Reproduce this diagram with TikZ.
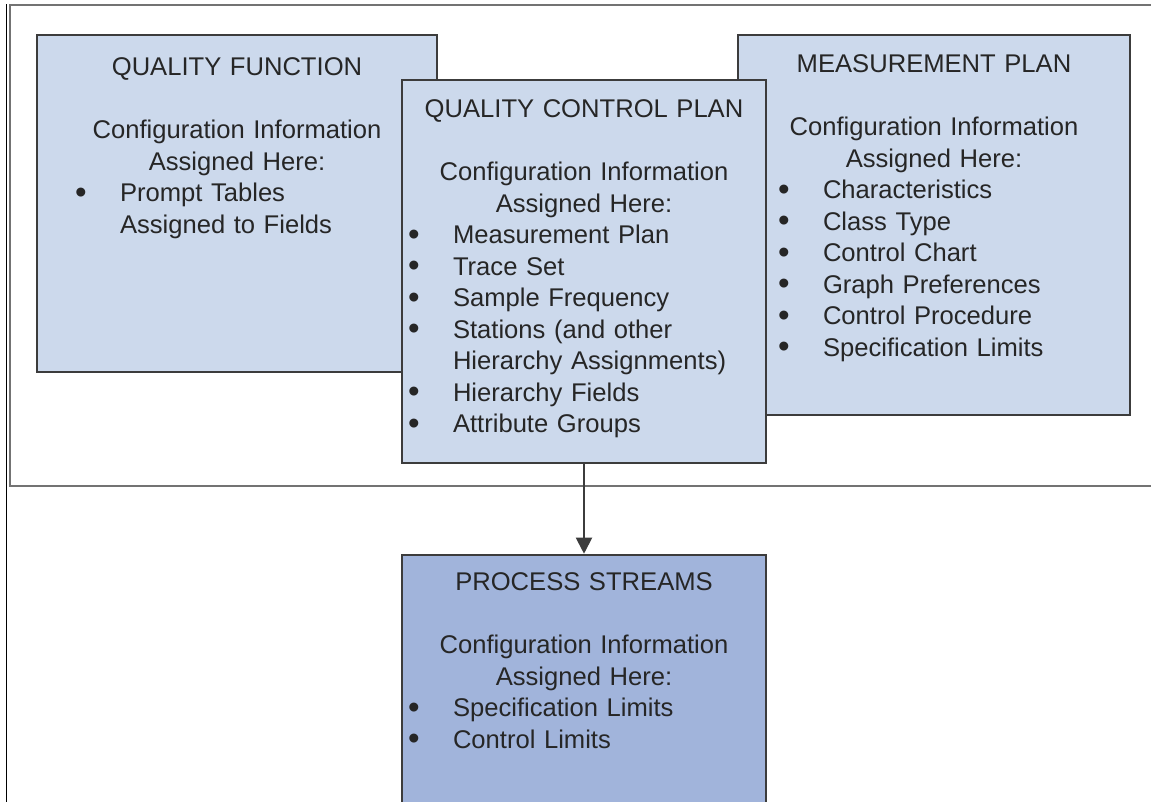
\documentclass[tikz,border=0pt]{standalone}
\usepackage{fontspec}
\setmainfont{Liberation Sans}
\usepackage{xcolor}
\definecolor{boxblue}{RGB}{204,217,236}
\definecolor{streamblue}{RGB}{161,180,219}
\definecolor{edgegray}{RGB}{60,60,60}
\definecolor{inkgray}{RGB}{38,38,38}
\usetikzlibrary{positioning,arrows.meta}
\newcommand{\bdot}{\raisebox{-1.5pt}{\fontsize{33}{31.5}\selectfont\textbullet}}
\newcommand{\bpt}[2][6pt]{\makebox[\hsize][l]{\hspace*{#1}\makebox[45pt][l]{\bdot}#2}}
\newcommand{\bcont}[2][6pt]{\makebox[\hsize][l]{\hspace*{#1}\hspace*{45pt}#2}}
\tikzset{
    plan/.style={
    rectangle,draw=edgegray,line width=2.6pt,fill=boxblue
    },
    stream/.style={
    plan,fill=streamblue
    },
  info/.style={inner sep=0pt, align=center, text=inkgray, font=\fontsize{25.6}{31.5}\selectfont},
  frame/.style={draw=black!55, line width=2pt},
  line/.style={draw=edgegray, line width=2pt, -{Triangle[width=16pt,length=16pt]}}
}
\begin{document}
\begin{tikzpicture}[x=1pt,y=-1pt]
    \clip (0,0) rectangle (1151,801);

    \draw[frame] (1160,4.5) -- (9.5,4.5) -- (9.5,485.5) -- (1160,485.5);
    \draw[black, line width=1.2pt] (6.5,4) -- (6.5,810);

    \node[plan, minimum width=400pt, minimum height=337pt] (qf) at (237,203.5) {};
    \node[info, text width=400pt, below=20pt of qf.north] (qf-text) {\strut QUALITY FUNCTION\\[31.5pt]
      Configuration Information\\ Assigned Here:\\
      \bpt[38pt]{Prompt Tables}\\ \bcont[38pt]{Assigned to Fields}};

    \node[plan, minimum width=392pt, minimum height=380pt] (mp) at (934,225) {};
    \node[info, text width=392pt, below=17pt of mp.north] (mp-text) {\strut MEASUREMENT PLAN\\[31.5pt]
      Configuration Information\\ Assigned Here:\\
      \bpt[40pt]{Characteristics}\\ \bpt[40pt]{Class Type}\\ \bpt[40pt]{Control Chart}\\
      \bpt[40pt]{Graph Preferences}\\ \bpt[40pt]{Control Procedure}\\ \bpt[40pt]{Specification Limits}};

    \node[plan, minimum width=364pt, minimum height=383pt] (qcp) at (584,271.5) {};
    \node[info, text width=364pt, below=17pt of qcp.north] (qcp-text) {\strut QUALITY CONTROL PLAN\\[31.5pt]
      Configuration Information\\ Assigned Here:\\
      \bpt{Measurement Plan}\\ \bpt{Trace Set}\\ \bpt{Sample Frequency}\\
      \bpt{Stations (and other}\\ \bcont{Hierarchy Assignments)}\\
      \bpt{Hierarchy Fields}\\ \bpt{Attribute Groups}};

    \node[stream, minimum width=364pt, minimum height=285pt] (ps) at (584,697.5) {};
    \node[info, text width=364pt, below=15pt of ps.north] (ps-text) {\strut PROCESS STREAMS\\[31.5pt]
      Configuration Information\\ Assigned Here:\\
      \bpt{Specification Limits}\\ \bpt{Control Limits}};

    \path[line] (qcp) -- (ps);

  \end{tikzpicture}
\end{document}
